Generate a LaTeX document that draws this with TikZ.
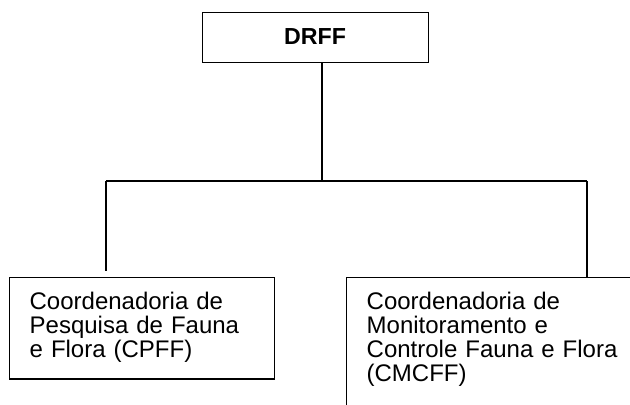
\documentclass[tikz,border=0pt]{standalone}
\usepackage{fontspec}
\setmainfont{Liberation Sans}

\tikzset{every picture/.style={line width=0.75pt}}
\tikzset{
  headbox/.style={draw, line width=0.75pt, minimum width=169.5pt, minimum height=37.5pt,
    font=\fontsize{17.4pt}{18pt}\selectfont\bfseries},
  unitbox/.style={draw, line width=1pt, anchor=north west, align=left,
    inner xsep=15pt, inner ysep=10.5pt, font=\fontsize{18pt}{18.2pt}\selectfont},
  orgline/.style={line width=1pt}
}

\begin{document}
\begin{tikzpicture}[x=0.75pt,y=0.75pt,yscale=-1,xscale=1]
\useasboundingbox (0,0) rectangle (630,404);
\clip (0,0) rectangle (630,404);

%Shape: Rectangle [id:drff] 
\node [headbox] (drff) at (315,37) {DRFF};
%Shape: Rectangle [id:cpff] 
\node [unitbox, text width=168.75pt, text depth=42pt] (cpff) at (9,277)
  {Coordenadoria de\\Pesquisa de Fauna\\e Flora (CPFF)};
%Shape: Rectangle [id:cmcff] 
\node [unitbox, text width=225pt, text depth=90pt] (cmcff) at (346,277)
  {Coordenadoria de\\Monitoramento e\\Controle Fauna e Flora\\(CMCFF)};

% Branch points
\coordinate (hub) at (322,181);
\coordinate (lbend) at (106,181);
\coordinate (rbend) at (587,181);
\coordinate (lend) at (106,271);

%Straight Lines
\draw [orgline] (drff.south -| hub) -- (hub);
\draw [orgline] (lbend) -- (rbend);
\draw [orgline] (lbend) -- (lend);
\draw [orgline] (rbend) -- (rbend |- cmcff.north);

\end{tikzpicture}
\end{document}
